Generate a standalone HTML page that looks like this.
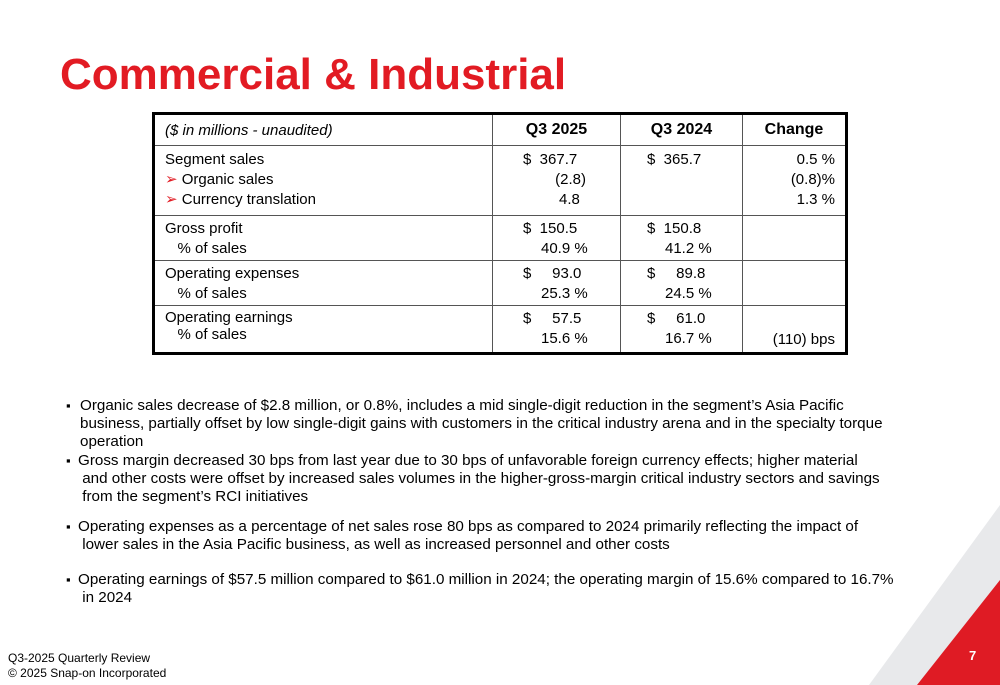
<!DOCTYPE html>
<html><head><meta charset="utf-8"><style>
body{margin:0;width:1000px;height:685px;position:relative;overflow:hidden;background:#fff;font-family:"Liberation Sans",Arial,sans-serif;color:#000}
.a{position:absolute;white-space:nowrap}
h1{position:absolute;left:60px;top:50px;margin:0;font-size:44px;font-weight:bold;color:#e21b23}
table{position:absolute;left:152px;top:112px;width:696px;table-layout:fixed;border-collapse:collapse;border:3px solid #000;font-size:15px}
td{border:1px solid #555;vertical-align:top;padding:0 10px;line-height:20px;white-space:nowrap}
th{border:1px solid #555;font-size:16px;height:28px;font-weight:bold}
.r{text-align:right}
.bul{position:absolute;left:66px;font-size:15.2px;line-height:18px;white-space:nowrap}
.bul span.sq{position:absolute;left:0;top:0;font-size:13px}
.ar{color:#e21b23}
</style></head><body>
<h1>Commercial &amp; Industrial</h1>
<table>
<colgroup><col style="width:339px"><col style="width:128px"><col style="width:122px"><col></colgroup>
<tr style="height:30px"><th style="text-align:left;font-weight:normal;font-style:italic;font-size:15px;padding-left:10px">($ in millions - unaudited)</th><th>Q3 2025</th><th>Q3 2024</th><th>Change</th></tr>
<tr style="height:70px"><td style="padding-top:4px">Segment sales<br><span class="ar">➢</span> Organic sales<br><span class="ar">➢</span> Currency translation</td><td style="padding-top:4px;padding-left:30px">$&nbsp; 367.7<br><span style="padding-left:28px">&nbsp;(2.8)</span><br><span style="padding-left:36px">4.8</span></td><td style="padding-top:4px;padding-left:26px">$&nbsp; 365.7</td><td class="r" style="padding-top:4px">0.5 %<br>(0.8)%<br>1.3 %</td></tr>
<tr style="height:45px"><td style="padding-top:3px">Gross profit<br>&nbsp;&nbsp; % of sales</td><td style="padding-top:3px;padding-left:30px">$&nbsp; 150.5<br><span style="padding-left:18px">40.9 %</span></td><td style="padding-top:3px;padding-left:26px">$&nbsp; 150.8<br><span style="padding-left:18px">41.2 %</span></td><td></td></tr>
<tr style="height:45px"><td style="padding-top:3px">Operating expenses<br>&nbsp;&nbsp; % of sales</td><td style="padding-top:3px;padding-left:30px">$&nbsp;&nbsp;&nbsp;&nbsp; 93.0<br><span style="padding-left:18px">25.3 %</span></td><td style="padding-top:3px;padding-left:26px">$&nbsp;&nbsp;&nbsp;&nbsp; 89.8<br><span style="padding-left:18px">24.5 %</span></td><td></td></tr>
<tr style="height:48px"><td style="padding-top:3px;line-height:17px">Operating earnings<br>&nbsp;&nbsp; % of sales</td><td style="padding-top:3px;padding-left:30px">$&nbsp;&nbsp;&nbsp;&nbsp; 57.5<br><span style="padding-left:18px">15.6 %</span></td><td style="padding-top:3px;padding-left:26px">$&nbsp;&nbsp;&nbsp;&nbsp; 61.0<br><span style="padding-left:18px">16.7 %</span></td><td class="r" style="vertical-align:bottom;padding-bottom:2px">(110) bps</td></tr>
</table>
<svg class="a" style="left:0;top:0" width="1000" height="685">
<polygon points="1000,505 1000,685 869,685" fill="#e8e9eb"/>
<polygon points="1000,580 1000,685 917,685" fill="#df1b24"/>
</svg>
<div class="a" style="left:969px;top:648px;color:#fff;font-weight:bold;font-size:13px">7</div>
<div class="bul" style="top:397px"><span class="sq">▪</span><div style="padding-left:14px">Organic sales decrease of $2.8 million, or 0.8%, includes a mid single-digit reduction in the segment’s Asia Pacific<br>business, partially offset by low single-digit gains with customers in the critical industry arena and in the specialty torque<br>operation</div></div>
<div class="bul" style="top:452px"><span class="sq">▪</span><div style="padding-left:12px">Gross margin decreased 30 bps from last year due to 30 bps of unfavorable foreign currency effects; higher material<br>&nbsp;and other costs were offset by increased sales volumes in the higher-gross-margin critical industry sectors and savings<br>&nbsp;from the segment’s RCI initiatives</div></div>
<div class="bul" style="top:518px"><span class="sq">▪</span><div style="padding-left:12px">Operating expenses as a percentage of net sales rose 80 bps as compared to 2024 primarily reflecting the impact of<br>&nbsp;lower sales in the Asia Pacific business, as well as increased personnel and other costs</div></div>
<div class="bul" style="top:571px"><span class="sq">▪</span><div style="padding-left:12px">Operating earnings of $57.5 million compared to $61.0 million in 2024; the operating margin of 15.6% compared to 16.7%<br>&nbsp;in 2024</div></div>
<div class="a" style="left:8px;top:651px;font-size:12px;line-height:15px">Q3-2025 Quarterly Review<br>© 2025 Snap-on Incorporated</div>
</body></html>
